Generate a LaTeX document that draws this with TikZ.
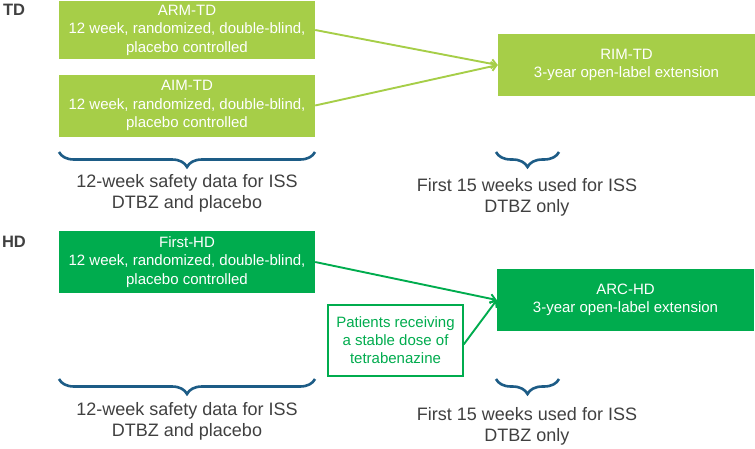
\documentclass[tikz,border=0pt]{standalone}
\usepackage{fontspec}
\setmainfont{Liberation Sans}
\usetikzlibrary{decorations.pathreplacing,arrows.meta}
\definecolor{lgreen}{HTML}{A6CE48}
\definecolor{dgreen}{HTML}{00AC4E}
\definecolor{bracec}{HTML}{1D5C86}
\definecolor{txtgray}{HTML}{404040}
\begin{document}
\begin{tikzpicture}[x=1pt,y=-1pt,
  trial/.style={fill=#1,text=white,minimum width=256pt,minimum height=62pt,inner sep=0pt,align=center,font=\fontsize{15}{18.5}\selectfont},
  ext/.style={fill=#1,text=white,minimum width=257pt,minimum height=62pt,inner sep=0pt,align=center,font=\fontsize{15}{18.5}\selectfont},
  conn/.style={draw=#1,line width=1.9pt,-{Straight Barb[length=5pt,width=9pt]}},
  bracedeco/.style={draw=bracec,line width=2.6pt,decorate,decoration={brace,mirror,amplitude=15pt}},
  caption/.style={text=txtgray,align=center,font=\fontsize{18}{21}\selectfont,inner sep=0pt},
  grouplab/.style={text=txtgray,font=\fontsize{16.5}{18}\selectfont\bfseries,inner sep=0pt}]
\useasboundingbox (0,0) rectangle (755,448);

\node[grouplab] (td) at (14,10) {TD};
\node[grouplab] (hd) at (14,242) {HD};

\node[trial=lgreen,minimum height=58pt] (arm) at (187,30) {ARM-TD\\12 week, randomized, double-blind,\\placebo controlled};
\node[trial=lgreen] (aim) at (187,105.5) {AIM-TD\\12 week, randomized, double-blind,\\placebo controlled};
\node[ext=lgreen] (rim) at (626.5,65) {RIM-TD\\3-year open-label extension};

\draw[conn=lgreen] (arm.east) -- (rim.west);
\draw[conn=lgreen] (aim.east) -- (rim.west);

\coordinate (b1l) at (59,152);
\coordinate (b1r) at (315,152);
\coordinate (b2l) at (496,152);
\coordinate (b2r) at (559,152);
\draw[bracedeco] (b1l) -- (b1r);
\draw[bracedeco] (b2l) -- (b2r);
\node[caption] (c1) at (187,193) {12-week safety data for ISS\\DTBZ and placebo};
\node[caption] (c2) at (527,197) {First 15 weeks used for ISS\\DTBZ only};

\node[trial=dgreen] (first) at (187,262) {First-HD\\12 week, randomized, double-blind,\\placebo controlled};
\node[ext=dgreen] (arc) at (625.5,300) {ARC-HD\\3-year open-label extension};
\node[draw=dgreen,line width=1.3pt,fill=white,text=dgreen,minimum width=135pt,minimum height=71pt,inner sep=0pt,align=center,font=\fontsize{15}{18}\selectfont] (pat) at (395.5,340.5) {Patients receiving\\a stable dose of\\tetrabenazine};

\draw[conn=dgreen] (first.east) -- (arc.west);
\draw[conn=dgreen] ([yshift=-4pt]pat.east) -- (arc.west);

\coordinate (b3l) at (59,379);
\coordinate (b3r) at (315,379);
\coordinate (b4l) at (496,379);
\coordinate (b4r) at (559,379);
\draw[bracedeco] (b3l) -- (b3r);
\draw[bracedeco] (b4l) -- (b4r);
\node[caption] (c3) at (187,421) {12-week safety data for ISS\\DTBZ and placebo};
\node[caption] (c4) at (527,426) {First 15 weeks used for ISS\\DTBZ only};
\end{tikzpicture}
\end{document}
